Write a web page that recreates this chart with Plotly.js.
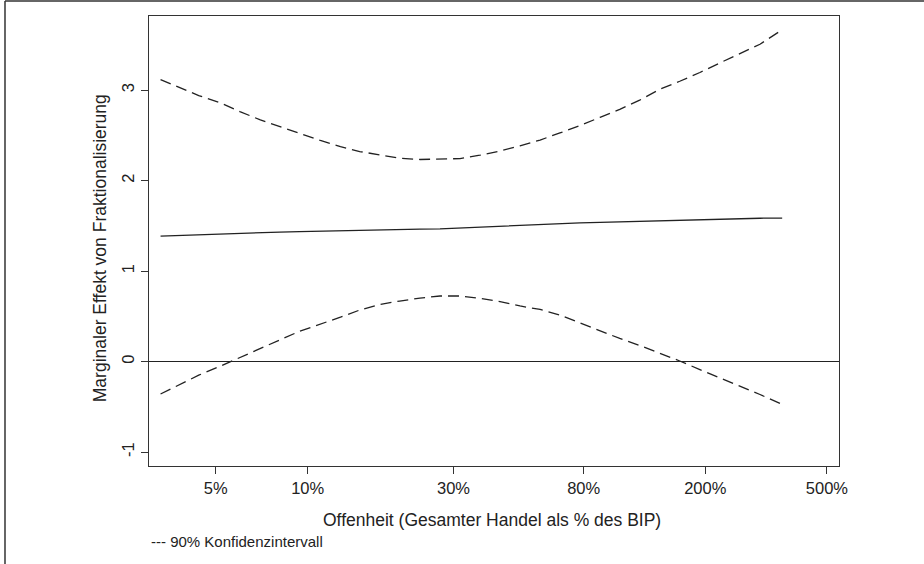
<!DOCTYPE html>
<html>
<head>
<meta charset="utf-8">
<script src="https://cdn.plot.ly/plotly-3.0.1.min.js"></script>
<style>
  html, body { margin: 0; padding: 0; background: #fff; }
  #chart { width: 924px; height: 564px; }
</style>
</head>
<body>
<div id="chart"></div>
<script>
// Openness (total trade as % of GDP), log scale
const openness = [3.3, 3.8, 4.4, 5.2, 6.0, 7.0, 8.1, 9.4, 11, 12.8, 14.8, 17.2, 20, 23.3, 27.1, 31.5,
                  36.6, 42.6, 49.5, 57.6, 66.9, 77.8, 90.5, 105, 122, 142, 165, 192, 223, 260, 302, 357];
// Marginal effect of fractionalization
const effect = [1.387, 1.395, 1.402, 1.411, 1.420, 1.426, 1.432, 1.438, 1.444, 1.450, 1.454, 1.459, 1.463, 1.465, 1.468, 1.478,
                1.489, 1.499, 1.508, 1.517, 1.525, 1.533, 1.540, 1.546, 1.552, 1.558, 1.565, 1.571, 1.577, 1.582, 1.585, 1.587];
// Upper 90% confidence bound
const upper = [3.117, 3.032, 2.940, 2.858, 2.763, 2.671, 2.594, 2.524, 2.444, 2.377, 2.322, 2.281, 2.248, 2.234, 2.235, 2.244,
               2.281, 2.328, 2.384, 2.449, 2.527, 2.608, 2.700, 2.788, 2.889, 3.010, 3.098, 3.195, 3.300, 3.402, 3.507, 3.667];
// Lower 90% confidence bound
const lower = [-0.357, -0.257, -0.149, -0.046, 0.049, 0.151, 0.240, 0.336, 0.413, 0.492, 0.571, 0.632, 0.670, 0.703, 0.726, 0.726,
               0.700, 0.663, 0.616, 0.577, 0.515, 0.427, 0.339, 0.257, 0.179, 0.093, 0.008, -0.087, -0.177, -0.265, -0.362, -0.472];

const xTickVals = [5, 10, 30, 80, 200, 500];
const xTickText = ['5%', '10%', '30%', '80%', '200%', '500%'];
const yTickVals = [-1, 0, 1, 2, 3];
const yTickText = ['-1', '0', '1', '2', '3'];

const xTitle = 'Offenheit (Gesamter Handel als % des BIP)';
const yTitle = 'Marginaler Effekt von Fraktionalisierung';
const note = '--- 90% Konfidenzintervall';

const FONT = 'Liberation Sans, Arial, Helvetica, sans-serif';
const LINE = '#222';
const AX = '#333';

const traces = [
  { x: openness, y: upper, type: 'scatter', mode: 'lines',
    line: { color: LINE, width: 1.3, dash: '11px,6px' }, hoverinfo: 'skip' },
  { x: openness, y: lower, type: 'scatter', mode: 'lines',
    line: { color: LINE, width: 1.3, dash: '11px,6px' }, hoverinfo: 'skip' },
  { x: openness, y: effect, type: 'scatter', mode: 'lines',
    line: { color: LINE, width: 1.3 }, hoverinfo: 'skip' }
];

const layout = {
  width: 924, height: 564,
  margin: { l: 149, r: 85, t: 16, b: 98 },
  paper_bgcolor: '#fff', plot_bgcolor: '#fff',
  showlegend: false,
  font: { family: FONT, color: '#222', size: 16 },
  xaxis: {
    type: 'log', range: [0.4807, 2.7386],
    tickmode: 'array', tickvals: xTickVals, ticktext: xTickText,
    ticks: 'outside', ticklen: 7, tickwidth: 1.2, tickcolor: AX,
    showline: true, linecolor: AX, linewidth: 1.3, mirror: true,
    showgrid: false, zeroline: false,
    tickfont: { family: FONT, size: 16.5, color: '#222' }
  },
  yaxis: {
    range: [-1.152, 3.819],
    tickmode: 'array', tickvals: yTickVals, ticktext: yTickText,
    ticks: 'outside', ticklen: 7, tickwidth: 1.2, tickcolor: AX,
    tickangle: -90,
    showline: true, linecolor: AX, linewidth: 1.3, mirror: true,
    showgrid: false,
    zeroline: true, zerolinecolor: LINE, zerolinewidth: 1.3,
    tickfont: { family: FONT, size: 16.5, color: '#222' }
  },
  annotations: [
    { text: xTitle, xref: 'paper', yref: 'paper', x: 0.497, y: -0.12,
      xanchor: 'center', yanchor: 'middle', showarrow: false,
      font: { family: FONT, size: 17.5, color: '#222' } },
    { text: yTitle, xref: 'paper', yref: 'paper', x: -0.071, y: 0.484, textangle: -90,
      xanchor: 'center', yanchor: 'middle', showarrow: false,
      font: { family: FONT, size: 17.5, color: '#222' } },
    { text: note, xref: 'paper', yref: 'paper', x: 0, y: -0.168,
      xanchor: 'left', yanchor: 'middle', showarrow: false,
      font: { family: FONT, size: 15, color: '#222' } }
  ],
  shapes: [
    { type: 'line', xref: 'paper', yref: 'paper', x0: -0.2087, x1: -0.2087, y0: -0.25, y1: 1.0333,
      line: { color: AX, width: 1.5 } },
    { type: 'line', xref: 'paper', yref: 'paper', x0: -0.2087, x1: 1.2, y0: 1.0333, y1: 1.0333,
      line: { color: AX, width: 1.5 } }
  ]
};

Plotly.newPlot('chart', traces, layout, { staticPlot: true, displayModeBar: false });
</script>
</body>
</html>
